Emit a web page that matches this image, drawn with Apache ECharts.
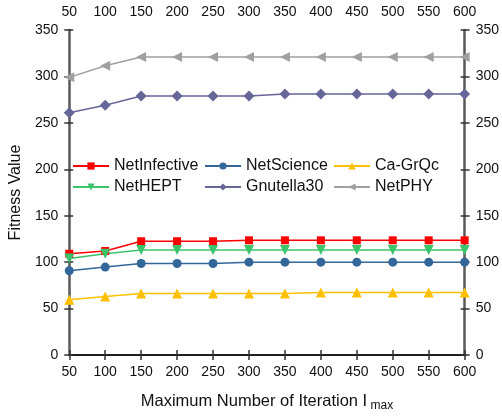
<!DOCTYPE html>
<html><head><meta charset="utf-8">
<script src="https://cdn.jsdelivr.net/npm/echarts@6/dist/echarts.min.js"></script>
<style>html,body{margin:0;padding:0;background:#fff}#c{width:502px;height:417px}</style>
</head><body><div id="c"></div>
<script>
const iterations = [50,100,150,200,250,300,350,400,450,500,550,600];
const netInfective = [109,112,122.5,122.5,122.5,123.5,123.5,123.5,123.5,123.5,123.5,123.5];
const netScience = [90.7,94.7,98.5,98.5,98.5,100,100,100,100,100,100,100];
const caGrQc = [59.6,63,66.3,66.3,66.3,66.3,66.3,67.4,67.4,67.4,67.4,67.4];
const netHEPT = [103.8,109,113,113,113,113,113,113,113,113,113,113];
const gnutella30 = [261,269,279,279,279,279,281,281,281,281,281,281];
const netPHY = [299,311.5,321,321,321,321,321,321,321,321,321,321];

const FONT = 'Liberation Sans';
const xLine = {show:true, lineStyle:{color:'#111', width:1.5}};
const yLine = {show:true, lineStyle:{color:'#5a5a5a', width:2.5}};
const tickOut = {show:true, length:5, lineStyle:{color:'#333', width:1.5}};
const tickIn = {show:true, inside:true, length:4, lineStyle:{color:'#333', width:1.5}};
const lab = {color:'#111', fontFamily:FONT, fontSize:14};

function s(name, data, color, symbol, size, rot){
  return {name, type:'line', xAxisIndex:0, yAxisIndex:0, data: iterations.map((x,i)=>[x,data[i]]),
    symbol, symbolSize:size, symbolRotate: rot||0,
    lineStyle:{color, width:1.5}, itemStyle:{color}, color, z:5};
}
const series = [
  s('NetInfective', netInfective, '#ff0000', 'rect', 8),
  s('NetScience', netScience, '#336699', 'circle', 9),
  s('Ca-GrQc', caGrQc, '#ffc000', 'triangle', 10),
  s('NetHEPT', netHEPT, '#3cc46a', 'triangle', 10, 180),
  s('Gnutella30', gnutella30, '#666699', 'diamond', 11),
  s('NetPHY', netPHY, '#a0a0a0', 'triangle', 10, 90),
];
const legPos = [[67,153],[199,153],[328,153],[67,174],[199,174],[328,174]];
const legends = series.map((sr,i)=>({
  data:[sr.name], left:legPos[i][0], top:legPos[i][1], itemWidth:36, itemHeight:9,
  itemGap:4, textStyle:{fontFamily:FONT, fontSize:16, color:'#111'}
}));

const base = {type:'value', min:50, max:600, interval:50, splitLine:{show:false}};
const ybase = {type:'value', min:0, max:350, interval:50, splitLine:{show:false}};
const chart = echarts.init(document.getElementById('c'));
chart.setOption({
  animation:false,
  backgroundColor:'#fff',
  grid:{left:62, right:33, top:30, bottom:58},
  legend: legends,
  xAxis:[
    {...base, position:'bottom', axisLine:xLine, axisTick:tickOut, axisLabel:{...lab, margin:10},
     name:'{a|Maximum Number of Iteration I}{b| max}', nameLocation:'middle', nameGap:36,
     nameTextStyle:{rich:{a:{fontFamily:FONT, fontSize:16.5, color:'#111'}, b:{fontFamily:FONT, fontSize:12, color:'#111', padding:[9,0,0,0]}}}},
    {...base, position:'top', axisLine:xLine, axisTick:tickOut, axisLabel:{...lab, margin:11}},
    {...base, position:'bottom', axisLine:{show:false}, axisTick:tickIn, axisLabel:{show:false}},
    {...base, position:'top', axisLine:{show:false}, axisTick:tickIn, axisLabel:{show:false}}
  ],
  yAxis:[
    {...ybase, position:'left', axisLine:yLine, axisTick:tickOut, axisLabel:{...lab, margin:11},
     name:'Fitness Value', nameLocation:'middle', nameGap:40,
     nameTextStyle:{fontFamily:FONT, fontSize:16, color:'#111'}},
    {...ybase, position:'right', axisLine:yLine, axisTick:tickOut, axisLabel:{...lab, margin:11}},
    {...ybase, position:'left', axisLine:{show:false}, axisTick:tickIn, axisLabel:{show:false}},
    {...ybase, position:'right', axisLine:{show:false}, axisTick:tickIn, axisLabel:{show:false}}
  ],
  series
});
</script></body></html>
